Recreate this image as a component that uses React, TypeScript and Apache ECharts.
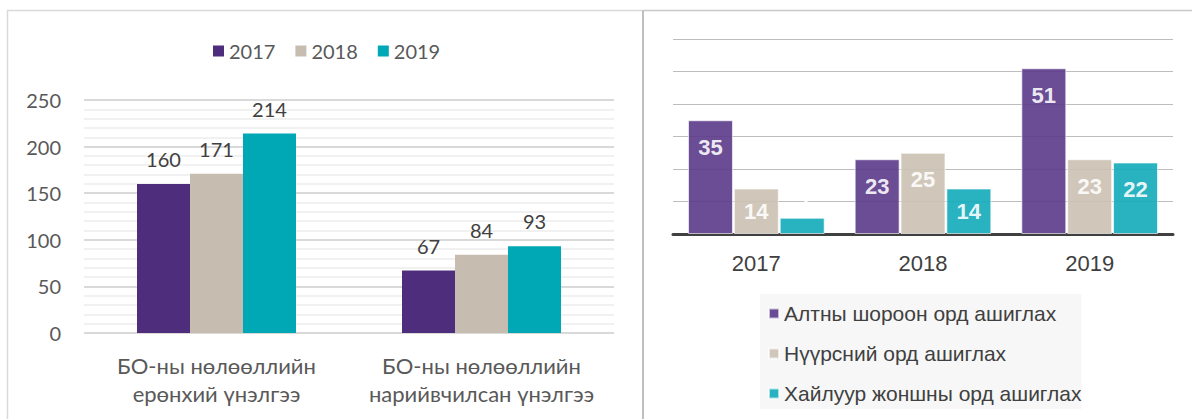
import React, { useEffect, useRef } from "react";
import * as echarts from "echarts";

// Left chart data
const leftCategories = ["БО-ны нөлөөллийн\nерөнхий үнэлгээ", "БО-ны нөлөөллийн\nнарийвчилсан үнэлгээ"];
const leftSeriesNames = ["2017", "2018", "2019"];
const left2017 = [160, 67];
const left2018 = [171, 84];
const left2019 = [214, 93];
const leftTicks = [0, 50, 100, 150, 200, 250];

// Right chart data
const rightCategories = ["2017", "2018", "2019"];
const rightSeriesNames = ["Алтны шороон орд ашиглах", "Нүүрсний орд ашиглах", "Хайлуур жоншны орд ашиглах"];
const rightGold = [35, 23, 51];
const rightCoal = [14, 25, 23];
const rightFluor = [5, 14, 22];

const leftColors = ["#4F2D7D", "#C6BDB0", "#00A8B5"];
const rightColors = ["#5B3A89", "#CBC1B2", "#12AAB9"];

export default function App() {
  const ref = useRef<HTMLDivElement>(null);
  useEffect(() => {
    if (!ref.current) return;
    const chart = echarts.init(ref.current, null, { renderer: "svg" });
    const leftData = [left2017, left2018, left2019];
    const rightData = [rightGold, rightCoal, rightFluor];
    const leftFont = "Lato, 'Open Sans', sans-serif";
    const rightFont = "'Liberation Sans', Arial, sans-serif";

    const leftSeries = leftSeriesNames.map((name, i) => ({
      name,
      type: "bar",
      xAxisIndex: 0,
      yAxisIndex: 0,
      data: leftData[i],
      barGap: "0%",
      barCategoryGap: "40%",
      itemStyle: { color: leftColors[i] },
      label: {
        show: true,
        position: "top",
        distance: 15,
        color: "#404040",
        fontSize: 20,
        fontFamily: leftFont,
      },
    }));

    const rightSeries = rightSeriesNames.map((name, i) => ({
      name,
      type: "bar",
      xAxisIndex: 1,
      yAxisIndex: 1,
      barGap: "2%",
      barCategoryGap: "18%",
      itemStyle: {
        color: rightColors[i],
        opacity: 0.9,
        borderColor: "rgba(255,255,255,0.7)",
        borderWidth: 1,
      },
      data: rightData[i].map((v) => ({
        value: v,
        label:
          v < 10
            ? { position: "top", distance: 6 }
            : v < 20
            ? { position: "inside" }
            : { position: "insideTop", distance: 16 },
      })),
      label: {
        show: true,
        color: "#ffffff",
        fontSize: 22,
        fontWeight: "bold",
        fontFamily: rightFont,
      },
    }));

    chart.setOption({
      animation: false,
      backgroundColor: "#ffffff",
      legend: [
        {
          data: leftSeriesNames,
          left: 208,
          top: 36,
          icon: "rect",
          itemWidth: 11,
          itemHeight: 11,
          itemGap: 20,
          textStyle: { fontSize: 20, color: "#595959", fontFamily: leftFont },
        },
        {
          data: rightSeriesNames,
          orient: "vertical",
          left: 760,
          top: 294,
          icon: "rect",
          itemWidth: 10,
          itemHeight: 10,
          itemGap: 19,
          padding: [9, 0, 5, 8],
          backgroundColor: "#F7F7F7",
          textStyle: { fontSize: 21, lineHeight: 21, color: "#404040", fontFamily: rightFont },
        },
      ],
      grid: [
        { left: 84, right: 578, top: 100, bottom: 86 },
        { left: 673, right: 19, top: 39, bottom: 185 },
      ],
      xAxis: [
        {
          type: "category",
          gridIndex: 0,
          data: leftCategories,
          axisLine: { show: false },
          axisTick: { show: false },
          axisLabel: {
            interval: 0,
            color: "#595959",
            fontSize: 22,
            lineHeight: 28,
            margin: 18,
            fontFamily: leftFont,
          },
        },
        {
          type: "category",
          gridIndex: 1,
          data: rightCategories,
          axisLine: { show: true, lineStyle: { color: "#404040", width: 3 } },
          axisTick: { show: false },
          axisLabel: { color: "#404040", fontSize: 22, margin: 18, fontFamily: rightFont },
        },
      ],
      yAxis: [
        {
          type: "value",
          gridIndex: 0,
          min: leftTicks[0],
          max: leftTicks[leftTicks.length - 1],
          interval: 50,
          axisLine: { show: false },
          axisTick: { show: false },
          axisLabel: { color: "#595959", fontSize: 20, margin: 23, fontFamily: leftFont },
          splitLine: { show: true, lineStyle: { color: "#D9D9D9", width: 2 } },
          minorTick: { show: false, splitNumber: 5 },
          minorSplitLine: { show: true, lineStyle: { color: "#EDEDED", width: 1.5 } },
        },
        {
          type: "value",
          gridIndex: 1,
          min: 0,
          max: 60,
          interval: 10,
          axisLine: { show: false },
          axisTick: { show: false },
          axisLabel: { show: false },
          splitLine: { show: true, lineStyle: { color: "#BDBDBD", width: 1.2 } },
        },
      ],
      series: [...leftSeries, ...rightSeries],
      graphic: [
        {
          type: "polyline",
          shape: { points: [[7.5, 430], [7.5, 10.5], [642, 10.5]] },
          style: { stroke: "#D9D9D9", lineWidth: 1.5, fill: null },
          silent: true,
        },
        {
          type: "line",
          shape: { x1: 643, y1: 10, x2: 643, y2: 430 },
          style: { stroke: "#BFBFBF", lineWidth: 2 },
          silent: true,
        },
        {
          type: "line",
          shape: { x1: 643, y1: 10.5, x2: 1192, y2: 10.5 },
          style: { stroke: "#C8C8C8", lineWidth: 1.5 },
          silent: true,
        },
      ],
    });
    return () => chart.dispose();
  }, []);
  return (
    <div
      ref={ref}
      style={{ position: "fixed", left: 0, top: 0, width: 1192, height: 419, background: "#fff" }}
    />
  );
}
